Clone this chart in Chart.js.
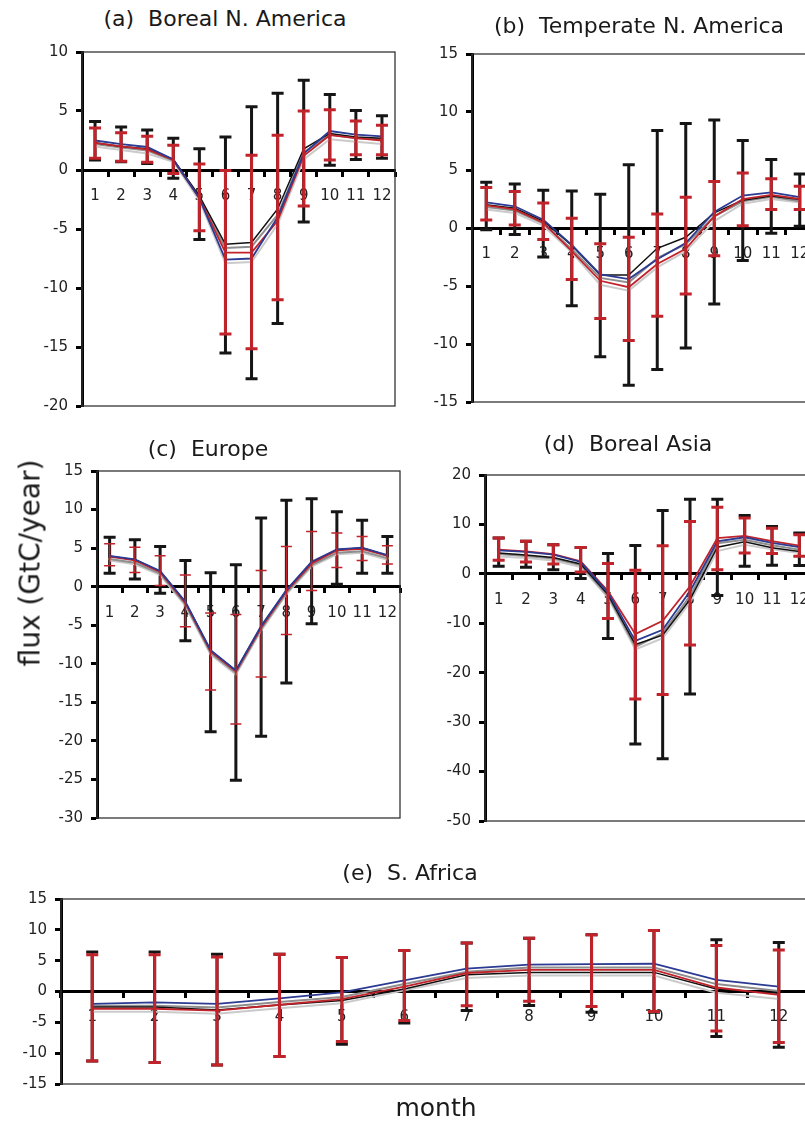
<!DOCTYPE html>
<html>
<head>
<meta charset="utf-8">
<script src="https://cdn.jsdelivr.net/npm/chart.js@4"></script>
<style>
  body { margin: 0; background: #fff; }
  #page { position: relative; width: 805px; height: 1121px; overflow: hidden; font-family: 'DejaVu Sans', Verdana, sans-serif; color: #1a1a1a; }
  canvas { position: absolute; }
  .lbl { position: absolute; white-space: pre; transform: translate(-50%, -50%); }
  .title { font-size: 22px; }
</style>
</head>
<body>
<div id="page">
  <canvas id="chartA"></canvas>
  <canvas id="chartB"></canvas>
  <canvas id="chartC"></canvas>
  <canvas id="chartD"></canvas>
  <canvas id="chartE"></canvas>
  <div class="lbl title" style="left:225px;top:18px">(a)  Boreal N. America</div>
  <div class="lbl title" style="left:639px;top:25px">(b)  Temperate N. America</div>
  <div class="lbl title" style="left:208px;top:448px">(c)  Europe</div>
  <div class="lbl title" style="left:628px;top:443px">(d)  Boreal Asia</div>
  <div class="lbl title" style="left:410px;top:872px">(e)  S. Africa</div>
  <div class="lbl" style="left:30px;top:563px;font-size:28px;transform:translate(-50%,-50%) rotate(-90deg)">flux (GtC/year)</div>
  <div class="lbl" style="left:436px;top:1107px;font-size:25px">month</div>
</div>
<script>
const months = ['1', '2', '3', '4', '5', '6', '7', '8', '9', '10', '11', '12'];

// (a) Boreal N. America
const aBlue  = [2.5, 2.2, 1.95, 0.9, -2.4, -7.6, -7.5, -4.0, 1.4, 3.3, 3.0, 2.85];
const aRed   = [2.3, 2.0, 1.75, 0.85, -2.4, -7.0, -7.0, -4.3, 1.2, 2.95, 2.7, 2.5];
const aBlack = [2.3, 2.0, 1.8, 0.9, -2.2, -6.3, -6.15, -3.3, 1.8, 3.1, 2.8, 2.7];
const aGrey  = [2.2, 1.9, 1.65, 0.8, -2.3, -6.6, -6.5, -3.8, 1.5, 3.0, 2.7, 2.6];
const aLight = [2.0, 1.7, 1.4, 0.7, -2.6, -7.9, -7.8, -4.6, 0.9, 2.6, 2.4, 2.2];
const aBlackHi = [4.1, 3.65, 3.4, 2.7, 1.8, 2.8, 5.35, 6.5, 7.6, 6.4, 5.05, 4.6];
const aBlackLo = [0.85, 0.7, 0.55, -0.7, -5.9, -15.5, -17.7, -13.0, -4.4, 0.4, 0.9, 1.0];
const aRedHi = [3.55, 3.15, 2.85, 2.1, 0.5, -0.05, 1.25, 2.95, 5.0, 5.1, 4.15, 3.8];
const aRedLo = [1.0, 0.75, 0.65, -0.3, -5.15, -13.9, -15.15, -11.0, -3.05, 0.85, 1.3, 1.3];

// (b) Temperate N. America
const bBlue  = [2.2, 1.87, 0.72, -1.45, -4.0, -4.4, -2.7, -1.3, 1.38, 2.8, 3.07, 2.67];
const bRed   = [1.95, 1.6, 0.45, -2.0, -4.55, -5.1, -3.1, -1.8, 1.0, 2.5, 2.85, 2.5];
const bBlack = [2.0, 1.7, 0.6, -1.5, -4.05, -4.05, -1.75, -0.8, 1.3, 2.4, 2.75, 2.45];
const bGrey  = [1.8, 1.5, 0.4, -1.8, -4.3, -4.7, -2.6, -1.4, 1.0, 2.3, 2.7, 2.3];
const bLight = [1.6, 1.3, 0.2, -2.1, -4.9, -5.4, -3.4, -2.0, 0.6, 2.1, 2.5, 2.2];
const bBlackHi = [3.95, 3.8, 3.25, 3.2, 2.9, 5.45, 8.4, 9.0, 9.3, 7.55, 5.9, 4.65];
const bBlackLo = [-0.15, -0.55, -2.5, -6.7, -11.1, -13.55, -12.2, -10.35, -6.55, -2.8, -0.45, 0.15];
const bRedHi = [3.5, 3.15, 2.15, 0.85, -1.35, -0.8, 1.2, 2.65, 4.0, 4.75, 4.25, 3.6];
const bRedLo = [0.7, 0.25, -1.0, -4.45, -7.8, -9.7, -7.6, -5.7, -2.4, 0.2, 1.6, 1.6];

// (c) Europe
const cBlue  = [4.0, 3.55, 2.05, -1.95, -8.25, -10.85, -5.1, -0.45, 3.25, 4.85, 5.05, 4.1];
const cRed   = [3.9, 3.4, 1.9, -2.1, -8.4, -11.0, -5.3, -0.6, 3.0, 4.7, 4.9, 4.0];
const cBlack = [3.95, 3.5, 2.0, -2.0, -8.3, -10.9, -5.2, -0.5, 3.15, 4.8, 5.0, 4.05];
const cGrey  = [3.6, 3.1, 1.7, -2.3, -8.6, -11.2, -5.5, -0.8, 2.8, 4.4, 4.6, 3.7];
const cLight = [3.4, 2.9, 1.5, -2.5, -8.8, -11.4, -5.7, -1.0, 2.6, 4.2, 4.4, 3.5];
const cBlackHi = [6.4, 6.1, 5.2, 3.4, 1.8, 2.85, 8.9, 11.2, 11.4, 9.7, 8.6, 6.5];
const cBlackLo = [1.75, 1.0, -0.85, -7.0, -18.8, -25.1, -19.4, -12.5, -4.8, 0.3, 1.75, 1.75];
const cRedHi = [5.55, 5.1, 4.0, 1.5, -3.4, -3.6, 2.1, 5.2, 7.15, 6.95, 6.5, 5.3];
const cRedLo = [2.7, 1.85, 0.15, -5.2, -13.4, -17.8, -11.7, -6.2, -0.5, 2.5, 3.4, 2.95];

// (d) Boreal Asia
const dBlue  = [4.75, 4.45, 3.9, 2.4, -3.8, -13.55, -11.3, -3.5, 6.6, 7.4, 6.25, 5.4];
const dRed   = [4.9, 4.55, 4.0, 2.55, -3.5, -12.2, -9.5, -2.5, 7.25, 7.7, 6.6, 5.7];
const dBlack = [4.2, 3.8, 3.3, 2.0, -4.2, -14.3, -12.4, -5.2, 5.4, 6.5, 5.3, 4.5];
const dGrey  = [4.0, 3.6, 3.1, 1.8, -4.5, -14.8, -12.0, -4.5, 6.2, 6.9, 5.8, 4.9];
const dLight = [3.5, 3.2, 2.7, 1.4, -4.8, -15.3, -13.0, -5.8, 4.6, 5.9, 5.0, 4.2];
const dBlackHi = [7.25, 6.6, 5.9, 5.35, 4.1, 5.75, 12.8, 15.1, 15.1, 11.8, 9.6, 8.25];
const dBlackLo = [1.55, 1.35, 0.85, -0.95, -13.1, -34.4, -37.4, -24.3, -4.4, 1.55, 1.75, 1.7];
const dRedHi = [7.25, 6.6, 5.9, 5.35, 2.1, 0.75, 5.7, 10.6, 13.5, 11.3, 9.25, 7.9];
const dRedLo = [2.75, 2.4, 2.0, 0.4, -9.05, -25.3, -24.4, -14.4, 0.85, 4.2, 4.1, 3.55];

// (e) S. Africa
const eBlue  = [-2.0, -1.75, -2.0, -1.1, -0.15, 1.8, 3.7, 4.35, 4.45, 4.5, 1.9, 0.8];
const eRed   = [-2.8, -2.8, -3.1, -2.15, -1.25, 0.8, 3.0, 3.5, 3.5, 3.5, 0.65, -0.55];
const eBlack = [-2.5, -2.5, -3.0, -2.2, -1.45, 0.4, 2.7, 3.1, 3.1, 3.1, 0.4, -0.3];
const eGrey  = [-2.3, -2.3, -2.6, -1.7, -0.9, 1.2, 3.2, 3.9, 3.9, 3.9, 1.2, 0.1];
const eLight = [-3.3, -3.3, -3.6, -2.7, -1.9, 0.2, 2.2, 2.6, 2.6, 2.6, -0.2, -1.2];
const eBlackHi = [6.4, 6.4, 6.05, 6.05, 5.5, 6.65, 7.85, 8.65, 9.2, 9.9, 8.4, 7.95];
const eBlackLo = [-11.25, -11.5, -11.9, -10.55, -8.55, -5.1, -3.1, -2.25, -3.35, -3.35, -7.3, -9.05];
const eRedHi = [5.95, 5.95, 5.6, 6.05, 5.5, 6.65, 7.85, 8.65, 9.2, 9.9, 7.45, 6.75];
const eRedLo = [-11.25, -11.5, -11.9, -10.55, -8.1, -4.7, -2.3, -1.6, -2.45, -3.25, -6.4, -8.25];

Chart.defaults.font.family = "'DejaVu Sans', Verdana, sans-serif";
Chart.defaults.font.size = 15;
Chart.defaults.color = '#222';

// canvas box: left, top, width, height
const panels = [
  { id: 'chartA', box: [22, 32, 389, 394], min: -20, max: 10, step: 5,
    lines: [aBlue, aRed, aBlack, aGrey, aLight], black: [aBlackHi, aBlackLo], red: [aRedHi, aRedLo], redW: 3, redCap: 12 },
  { id: 'chartB', box: [412, 34, 418, 388], min: -15, max: 15, step: 5,
    lines: [bBlue, bRed, bBlack, bGrey, bLight], black: [bBlackHi, bBlackLo], red: [bRedHi, bRedLo], redW: 3, redCap: 12 },
  { id: 'chartC', box: [37, 451, 379, 387], min: -30, max: 15, step: 5,
    lines: [cBlue, cRed, cBlack, cGrey, cLight], black: [cBlackHi, cBlackLo], red: [cRedHi, cRedLo], redW: 1.5, redCap: 11 },
  { id: 'chartD', box: [425, 455, 404, 386], min: -50, max: 20, step: 10,
    lines: [dBlue, dRed, dBlack, dGrey, dLight], black: [dBlackHi, dBlackLo], red: [dRedHi, dRedLo], redW: 3, redCap: 12 },
  { id: 'chartE', box: [1, 879, 825, 225], min: -15, max: 15, step: 5,
    lines: [eBlue, eRed, eBlack, eGrey, eLight], black: [eBlackHi, eBlackLo], red: [eRedHi, eRedLo], redW: 3, redCap: 12 }
];

function drawBars(chart, hi, lo, color, width, cap) {
  const { ctx, scales: { x, y } } = chart;
  ctx.save();
  ctx.strokeStyle = color;
  ctx.lineWidth = width;
  hi.forEach((h, i) => {
    const px = x.getPixelForValue(i);
    const top = y.getPixelForValue(h);
    const bot = y.getPixelForValue(lo[i]);
    ctx.beginPath();
    ctx.moveTo(px, top); ctx.lineTo(px, bot);
    ctx.moveTo(px - cap / 2, top); ctx.lineTo(px + cap / 2, top);
    ctx.moveTo(px - cap / 2, bot); ctx.lineTo(px + cap / 2, bot);
    ctx.stroke();
  });
  ctx.restore();
}

// frame + black bars under the lines, red bars on top
function barsPlugin(p) {
  return {
    id: 'errbars',
    beforeDatasetsDraw(chart) {
      const { ctx, chartArea: a } = chart;
      ctx.save();
      ctx.strokeStyle = '#333';
      ctx.lineWidth = 1.3;
      ctx.strokeRect(a.left, a.top, a.right - a.left, a.bottom - a.top);
      ctx.restore();
      drawBars(chart, p.black[0], p.black[1], '#151515', 3, 12);
    },
    afterDatasetsDraw(chart) {
      drawBars(chart, p.red[0], p.red[1], '#c1232b', p.redW, p.redCap);
    }
  };
}

panels.forEach(p => {
  const canvas = document.getElementById(p.id);
  const [left, top, w, h] = p.box;
  canvas.width = w;
  canvas.height = h;
  canvas.style.left = left + 'px';
  canvas.style.top = top + 'px';

  const [blue, red, black, grey, light] = p.lines;
  new Chart(canvas, {
    type: 'line',
    data: {
      labels: months,
      datasets: [
        { data: blue, borderColor: '#2b3a92', borderWidth: 1.8 },
        { data: red, borderColor: '#c1232b', borderWidth: 1.8 },
        { data: black, borderColor: '#111', borderWidth: 1.5 },
        { data: grey, borderColor: '#8e8e8e', borderWidth: 2, pointRadius: 1.5, pointBorderWidth: 0, pointBackgroundColor: '#a8806c' },
        { data: light, borderColor: '#cacaca', borderWidth: 2 }
      ]
    },
    options: {
      responsive: false,
      animation: false,
      layout: { padding: { top: 20, bottom: 20, left: 0, right: 16 } },
      elements: { point: { radius: 0 }, line: { tension: 0 } },
      plugins: { legend: { display: false }, tooltip: { enabled: false } },
      scales: {
        x: {
          type: 'category',
          offset: true,
          position: { y: 0 },
          border: { color: '#000', width: 3 },
          grid: { offset: true, drawOnChartArea: false, tickLength: 5, tickWidth: 3, tickColor: '#000' },
          ticks: { padding: 12, maxRotation: 0, autoSkip: false }
        },
        y: {
          min: p.min,
          max: p.max,
          ticks: { stepSize: p.step, padding: 8 },
          border: { color: '#000', width: 3 },
          grid: { drawOnChartArea: false, tickLength: 6, tickWidth: 3, tickColor: '#000' },
          afterFit(scale) { scale.width = 60; }
        }
      }
    },
    plugins: [barsPlugin(p)]
  });
});
</script>
</body>
</html>
